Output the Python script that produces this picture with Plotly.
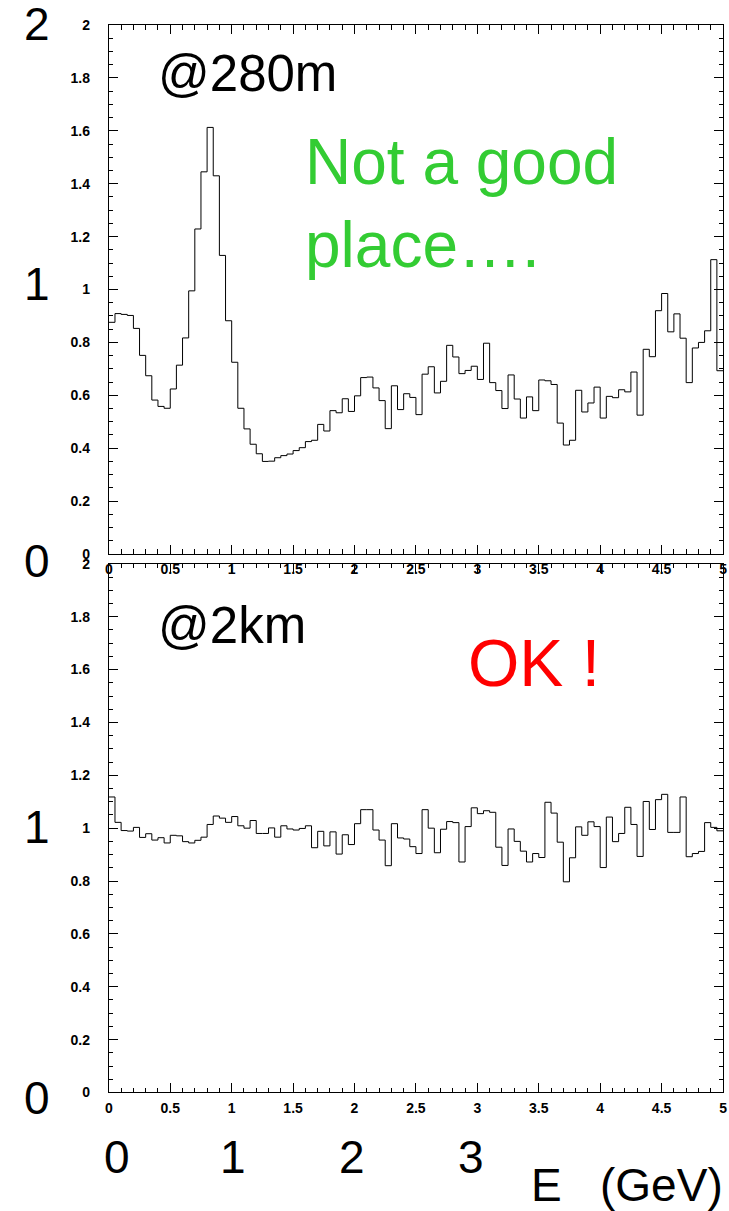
import numpy as np
import plotly.graph_objects as go

# ---- data ----
N_BINS = 100
X_MIN, X_MAX = 0.0, 5.0

ratio_280m = [
    0.876, 0.909, 0.906, 0.902, 0.853, 0.751, 0.674, 0.582, 0.558, 0.551,
    0.624, 0.714, 0.817, 0.995, 1.229, 1.445, 1.613, 1.430, 1.129, 0.882,
    0.725, 0.551, 0.473, 0.415, 0.379, 0.350, 0.351, 0.364, 0.372, 0.378,
    0.391, 0.402, 0.425, 0.430, 0.490, 0.465, 0.542, 0.534, 0.587, 0.539,
    0.598, 0.667, 0.669, 0.628, 0.580, 0.474, 0.636, 0.546, 0.606, 0.592,
    0.527, 0.680, 0.708, 0.609, 0.653, 0.789, 0.745, 0.682, 0.694, 0.710,
    0.660, 0.797, 0.648, 0.618, 0.550, 0.677, 0.586, 0.514, 0.594, 0.542,
    0.658, 0.655, 0.641, 0.495, 0.412, 0.430, 0.619, 0.537, 0.571, 0.631,
    0.514, 0.596, 0.591, 0.621, 0.613, 0.688, 0.525, 0.774, 0.746, 0.920,
    0.985, 0.840, 0.908, 0.816, 0.648, 0.779, 0.800, 0.844, 1.113, 0.693,
]

ratio_2km = [
    1.118, 1.022, 0.991, 0.989, 1.003, 0.965, 0.979, 0.955, 0.964, 0.944,
    0.973, 0.971, 0.949, 0.944, 0.954, 0.966, 1.014, 1.046, 1.038, 1.022,
    1.044, 1.009, 1.000, 1.029, 0.980, 0.980, 1.001, 0.966, 1.009, 0.997,
    0.993, 0.999, 1.009, 0.926, 0.988, 0.933, 0.986, 0.902, 0.975, 0.938,
    1.017, 1.070, 1.070, 0.993, 0.955, 0.858, 1.017, 0.963, 0.959, 0.930,
    0.904, 1.070, 1.000, 0.907, 0.996, 1.025, 1.021, 0.872, 1.006, 1.077,
    1.055, 1.066, 1.060, 0.928, 0.859, 0.997, 0.950, 0.913, 0.872, 0.904,
    0.889, 1.098, 1.057, 0.947, 0.797, 0.888, 1.005, 0.973, 1.024, 1.006,
    0.851, 1.042, 0.949, 0.980, 1.079, 1.014, 0.893, 1.101, 0.995, 1.108,
    1.128, 0.984, 0.984, 1.118, 0.892, 0.904, 0.912, 1.021, 1.003, 0.990,
]

panel_labels = ["@280m", "@2km"]
comment_top = "Not a good<br>place…."
comment_bottom = "OK !"
big_y_labels_top = ["2", "1", "0"]
big_y_labels_bottom = ["1", "0"]
big_x_labels = ["0", "1", "2", "3"]
x_title = "E\u00a0\u00a0\u00a0(GeV)"

# ---- layout constants ----
W, H = 729, 1211
def px(x):
    return x / W
def py(y):
    return 1 - y / H

edges = np.linspace(X_MIN, X_MAX, N_BINS + 1)

def step_xy(vals):
    xs = list(edges[:-1]) + [edges[-1]]
    ys = list(vals) + [vals[-1]]
    return xs, ys

fig = go.Figure()
x1, y1 = step_xy(ratio_280m)
x2, y2 = step_xy(ratio_2km)
fig.add_trace(go.Scatter(x=x1, y=y1, mode="lines", line=dict(color="black", width=1, shape="hv"),
                         xaxis="x", yaxis="y", showlegend=False, hoverinfo="skip"))
fig.add_trace(go.Scatter(x=x2, y=y2, mode="lines", line=dict(color="black", width=1, shape="hv"),
                         xaxis="x2", yaxis="y2", showlegend=False, hoverinfo="skip"))

tickfont = dict(family="Liberation Sans, Arial, sans-serif", size=14, color="black", weight="bold")

def xaxis_cfg(anchor, standoff):
    return dict(domain=[px(106), px(727)], range=[X_MIN, X_MAX], anchor=anchor,
                showgrid=False, zeroline=False, showline=True, linecolor="black", linewidth=1,
                mirror="ticks", ticks="inside", ticklen=9, tickwidth=1, tickcolor="black",
                dtick=0.5, tick0=0, tickfont=tickfont, ticklabelstandoff=standoff,
                ticklabeloverflow="allow",
                minor=dict(dtick=0.1, ticks="inside", ticklen=4.5, tickcolor="black", tickwidth=1, showgrid=False))

def yaxis_cfg(anchor, dom):
    return dict(domain=dom, range=[0, 2], anchor=anchor,
                showgrid=False, zeroline=False, showline=True, linecolor="black", linewidth=1,
                mirror="ticks", ticks="inside", ticklen=9, tickwidth=1, tickcolor="black",
                dtick=0.2, tick0=0, tickfont=tickfont, ticklabelstandoff=15,
                ticklabeloverflow="allow",
                minor=dict(dtick=0.05, ticks="inside", ticklen=4.5, tickcolor="black", tickwidth=1, showgrid=False))

FAM = "Liberation Sans, Arial, sans-serif"
big_font = dict(family=FAM, size=46, color="black")
label_font = dict(family=FAM, size=51, color="black")

annotations = []
def ann(text, x, y, font, xanchor="center", yanchor="middle", align="center"):
    annotations.append(dict(text=text, x=px(x), y=py(y), xref="paper", yref="paper",
                            xanchor=xanchor, yanchor=yanchor, align=align,
                            showarrow=False, font=font))

# big left labels
for t, yy in zip(big_y_labels_top, [16, 280, 560]):
    ann(t, 33, yy, big_font)
for t, yy in zip(big_y_labels_bottom, [830, 1105]):
    ann(t, 33, yy, big_font)
# big bottom labels
for t, xx in zip(big_x_labels, [114, 232, 352, 472]):
    ann(t, xx, 1164, big_font)
ann(x_title, 531, 1193, big_font, xanchor="left")

# panel labels
ann(panel_labels[0], 154, 66, label_font, xanchor="left")
ann(panel_labels[1], 154, 626, label_font, xanchor="left")

# comments
ann(comment_top, 302, 198, dict(family=FAM, size=64, color="#33cc33"),
    xanchor="left", align="left")
ann(comment_bottom, 467, 664, dict(family=FAM, size=66, color="#ff0000"),
    xanchor="left")

fig.update_layout(
    width=W, height=H,
    margin=dict(l=0, r=0, t=0, b=0),
    paper_bgcolor="white", plot_bgcolor="white",
    xaxis=xaxis_cfg("y", 2),
    yaxis=yaxis_cfg("x", [py(553.3), py(17.3)]),
    xaxis2=xaxis_cfg("y2", 3),
    yaxis2=yaxis_cfg("x2", [py(1099), py(563.3)]),
    annotations=annotations,
    showlegend=False,
)

fig.write_html("out.html")
